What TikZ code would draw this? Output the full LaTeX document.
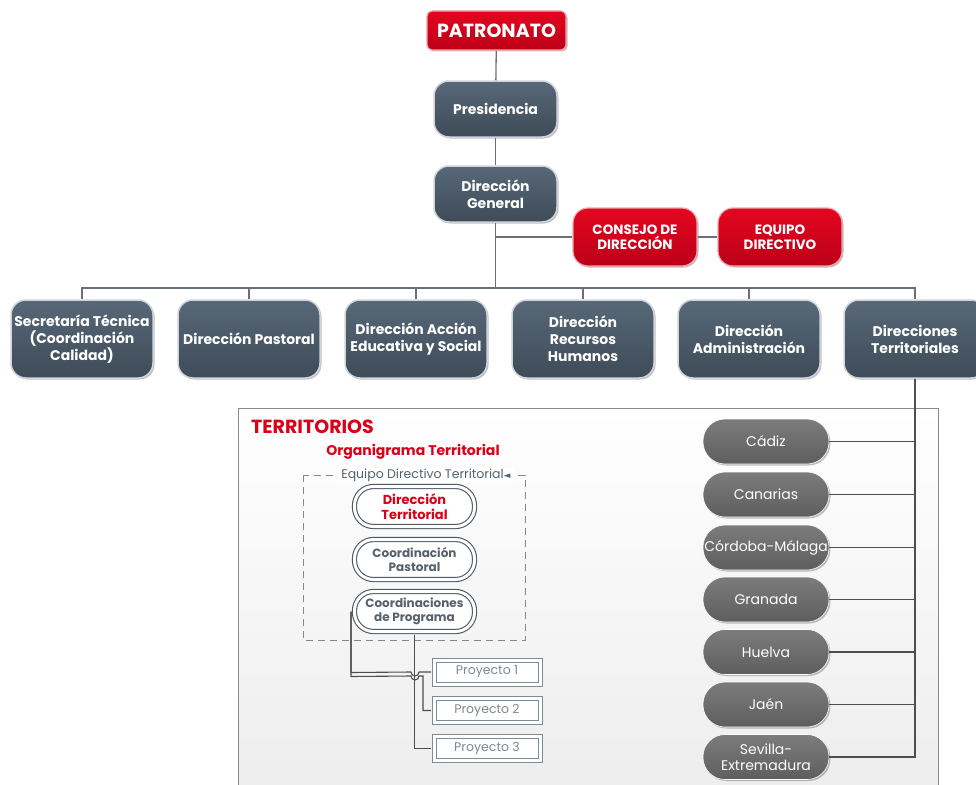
\documentclass[tikz,border=0pt]{standalone}
\usepackage{fontspec}
\setmainfont{Poppins}
\newfontfamily\symfont{DejaVu Sans}
\usetikzlibrary{shadows,calc}
\definecolor{slateT}{HTML}{586878}
\definecolor{slateB}{HTML}{3E4B58}
\definecolor{slateEdge}{HTML}{CDD4DA}
\definecolor{redT}{HTML}{E3061F}
\definecolor{redB}{HTML}{BC0018}
\definecolor{redEdge}{HTML}{F2A3AD}
\definecolor{terrT}{HTML}{7C7C7C}
\definecolor{terrB}{HTML}{5E5E5E}
\definecolor{wire}{HTML}{68717A}
\definecolor{darkwire}{HTML}{4E4E4E}
\definecolor{ovalEdge}{HTML}{4D5966}
\definecolor{ovalText}{HTML}{56616C}
\definecolor{projEdge}{HTML}{7D8A97}
\definecolor{projText}{HTML}{7D8893}
\definecolor{brand}{HTML}{D90019}
\definecolor{panelEdge}{HTML}{8A8A8A}
\begin{document}
\begin{tikzpicture}[x=1pt,y=-1pt,
  font=\fontsize{14}{17}\selectfont,
  shadowed/.style={drop shadow={shadow xshift=1.5pt,shadow yshift=-1.5pt,opacity=.25,fill=black}},
  redbox/.style={shadowed,rounded corners=15pt,top color=redT,bottom color=redB,
    draw=redEdge,line width=1.2pt,text=white,align=center,
    font=\fontsize{13.5}{15.5}\selectfont\bfseries},
  slatebox/.style={shadowed,rounded corners=15pt,top color=slateT,bottom color=slateB,
    draw=slateEdge,line width=1.5pt,text=white,align=center,
    font=\fontsize{14}{17}\selectfont\bfseries},
  rowbox/.style={slatebox,minimum width=142pt,minimum height=78pt,inner xsep=1pt},
  terrbox/.style={shadowed,rounded corners=22pt,top color=terrT,bottom color=terrB,
    draw=white,line width=.6pt,text=white,align=center,minimum width=126pt,
    minimum height=45pt,inner xsep=1pt,font=\fontsize{14}{17}\selectfont},
  ovalbox/.style={draw=ovalEdge,double=white,double distance=3pt,line width=1.1pt,
    fill=white,rounded corners=19pt,minimum width=120pt,minimum height=40pt,
    align=center,text=ovalText,font=\fontsize{12}{14}\selectfont\bfseries},
  projbox/.style={draw=projEdge,double=white,double distance=3pt,line width=1pt,
    fill=white,minimum width=106pt,minimum height=24pt,text=projText,
    font=\fontsize{12.5}{14}\selectfont},
  wireline/.style={draw=wire,line width=1.3pt},
  terrline/.style={draw=darkwire,line width=1.2pt},
  projline/.style={draw=darkwire,line width=1.1pt}]
\useasboundingbox (0,0) rectangle (976,784);
\fill[white] (0,0) rectangle (976,784);

% ---------- top of the chart ----------
\node[redbox,rounded corners=5pt,minimum width=139pt,minimum height=39pt,
  font=\fontsize{19}{22}\selectfont\bfseries] (pat) at (496.5,30.5) {PATRONATO};
\node[slatebox,minimum width=123pt,minimum height=56pt] (pres) at (495.5,109) {Presidencia};
\node[slatebox,minimum width=123pt,minimum height=56pt] (dg) at (495.5,194) {Dirección\\General};
\node[redbox,minimum width=124pt,minimum height=58pt] (cons) at (635,237) {CONSEJO DE\\DIRECCIÓN};
\node[redbox,minimum width=124pt,minimum height=58pt] (equi) at (780,237) {EQUIPO\\DIRECTIVO};

% ---------- second row ----------
\node[rowbox] (st)  at (82,339)  {Secretaría Técnica\\(Coordinación\\Calidad)};
\node[rowbox] (dp)  at (249,339) {Dirección Pastoral};
\node[rowbox] (dae) at (416,339) {Dirección Acción\\Educativa y Social};
\node[rowbox] (drh) at (583,339) {Dirección\\Recursos\\Humanos};
\node[rowbox] (dad) at (749,339) {Dirección\\Administración};
\node[rowbox] (dt)  at (915,339) {Direcciones\\Territoriales};

\coordinate (bus) at (495.5,288);
\draw[wireline] (pat) -- (pres);
\draw[wireline] (pres) -- (dg);
\draw[wireline] (dg) -- (bus);
\draw[wireline] (dg.south |- cons.west) -- (cons.west);
\draw[wireline] (cons.east) -- (equi.west);
\draw[wireline] (st.north) |- (bus) -| (dt.north);
\foreach \b in {dp,dae,drh,dad} \draw[wireline] (\b.north) -- (\b.north |- bus);

% ---------- territories panel ----------
\shade[top color=white,bottom color=black!7] (238,408) rectangle (938,790);
\draw[panelEdge,line width=1pt] (238,790) -- (238,408) -- (938,408) -- (938,790);

\node[anchor=west,text=brand,font=\fontsize{19}{21}\selectfont\bfseries,inner sep=0pt]
  (ttl) at (251,427) {TERRITORIOS};
\node[text=brand,font=\fontsize{14}{16}\selectfont\bfseries] (org) at (413,452) {Organigrama Territorial};

\draw[projEdge,dashed,dash pattern=on 7pt off 5pt,line width=1pt] (303,475) rectangle (525,640);
\node[fill=white,inner xsep=3pt,inner ysep=1pt,text=ovalText,font=\fontsize{12.5}{14}\selectfont]
  (edt) at (426,475) {Equipo Directivo Territorial{\symfont\fontsize{9}{10}\selectfont ◄}};

\node[ovalbox,text=brand,font=\fontsize{13}{15}\selectfont\bfseries] (dtr) at (414.5,506.5) {Dirección\\Territorial};
\node[ovalbox] (cpa) at (414.5,559.5) {Coordinación\\Pastoral};
\node[ovalbox] (cpr) at (414.5,611.5) {Coordinaciones\\de Programa};

\node[projbox] (p1) at (487,672) {Proyecto 1};
\node[projbox] (p2) at (487,710.5) {Proyecto 2};
\node[projbox] (p3) at (487,748.5) {Proyecto 3};

% links from the programme coordinators to the projects
\coordinate (cl) at ($(cpr.west)+(-3,0)$);
\coordinate (cb) at ($(cpr.south)+(0,2.5)$);
\draw[projline] (cl) -- ++(0,61) -- (411,672) arc[start angle=180,end angle=0,radius=4] -- ($(p1.west)+(-2.5,0)$);
\draw[projline] (cl) -- ++(0,65) -- (411,676) arc[start angle=180,end angle=0,radius=4] -- (423,676) |- ($(p2.west)+(-2.5,0)$);
\draw[projline] (cb) |- ($(p3.west)+(-2.5,0)$);

% ---------- territory list ----------
\node[terrbox] (t1) at (766,441.5) {Cádiz};
\node[terrbox] (t2) at (766,494.5) {Canarias};
\node[terrbox] (t3) at (766,547.5) {Córdoba-Málaga};
\node[terrbox] (t4) at (766,599.5) {Granada};
\node[terrbox] (t5) at (766,652) {Huelva};
\node[terrbox] (t6) at (766,704.5) {Jaén};
\node[terrbox,font=\fontsize{14}{16}\selectfont] (t7) at (766,757) {Sevilla-\\Extremadura};

\draw[terrline] (dt.south) |- (t7.east);
\foreach \t in {t1,t2,t3,t4,t5,t6} \draw[terrline] (\t.east) -- (\t.east -| dt.south);
\end{tikzpicture}
\end{document}
